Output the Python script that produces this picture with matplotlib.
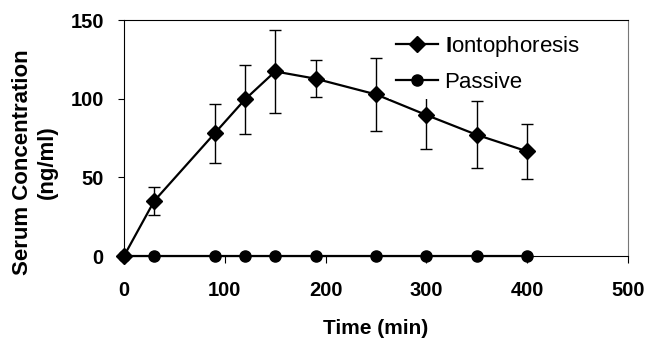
import matplotlib
matplotlib.use("Agg")
import matplotlib.pyplot as plt

plt.rcParams['font.family'] = ['Liberation Sans', 'DejaVu Sans']
plt.rcParams['mathtext.fontset'] = 'custom'
plt.rcParams['mathtext.bf'] = 'Liberation Sans:bold'
plt.rcParams['mathtext.rm'] = 'Liberation Sans'

time_min = [0, 30, 90, 120, 150, 190, 250, 300, 350, 400]
iontophoresis = [0, 35, 78, 99.5, 117.3, 112.7, 102.7, 89.6, 77, 66.5]
ionto_err = [0, 9, 18.6, 21.7, 26.3, 11.9, 23.1, 21.6, 21.3, 17.7]
passive = [0, 0, 0, 0, 0, 0, 0, 0, 0, 0]

xticks = [0, 100, 200, 300, 400, 500]
yticks = [0, 50, 100, 150]

W, H = 646, 341
fig = plt.figure(figsize=(W / 100, H / 100), dpi=100)
ax = fig.add_axes([124 / W, 1 - 256 / H, (628 - 124) / W, (256 - 20) / H])

ax.errorbar(time_min, iontophoresis, yerr=ionto_err, fmt='none', ecolor='black',
            elinewidth=1.0, capsize=4, capthick=1.0, zorder=2)
ax.plot(time_min, iontophoresis, color='black', lw=1.6, marker='D', ms=8,
        label=r'$\mathbf{I}$ontophoresis', zorder=3, clip_on=False)
ax.plot(time_min, passive, color='black', lw=1.6, marker='o', ms=8,
        label='Passive', zorder=4, clip_on=False)

ax.set_xlim(0, 500)
ax.set_ylim(0, 150)
ax.set_xticks(xticks)
ax.set_yticks(yticks)
ax.tick_params(axis='x', direction='out', length=5, width=0.8, pad=13, labelsize=14.5)
ax.tick_params(axis='y', direction='out', length=4.5, width=0.8, pad=10, labelsize=14.5)
for lab in ax.get_xticklabels() + ax.get_yticklabels():
    lab.set_fontweight('bold')
for s in ['left', 'bottom', 'top']:
    ax.spines[s].set_linewidth(0.8)
    ax.spines[s].set_color('black')
ax.spines['right'].set_linewidth(0.8)
ax.spines['right'].set_color('#777777')

fig.text(376 / W, 1 - 329 / H, 'Time (min)', ha='center', va='center',
         fontsize=15, fontweight='bold')
fig.text(35 / W, 1 - 162 / H, 'Serum Concentration\n(ng/ml)', ha='center', va='center',
         rotation=90, fontsize=16, fontweight='bold', multialignment='center',
         linespacing=1.25)

leg = ax.legend(loc='upper left', bbox_to_anchor=(389 / W, 1 - 27 / H),
                bbox_transform=fig.transFigure, fontsize=16, frameon=True,
                facecolor='white', edgecolor='none', framealpha=1, fancybox=False,
                numpoints=1, handlelength=1.9, handletextpad=0.3, labelspacing=0.58,
                borderpad=0.3, borderaxespad=0)
leg.set_zorder(5)

fig.savefig('out.png', dpi=100)
